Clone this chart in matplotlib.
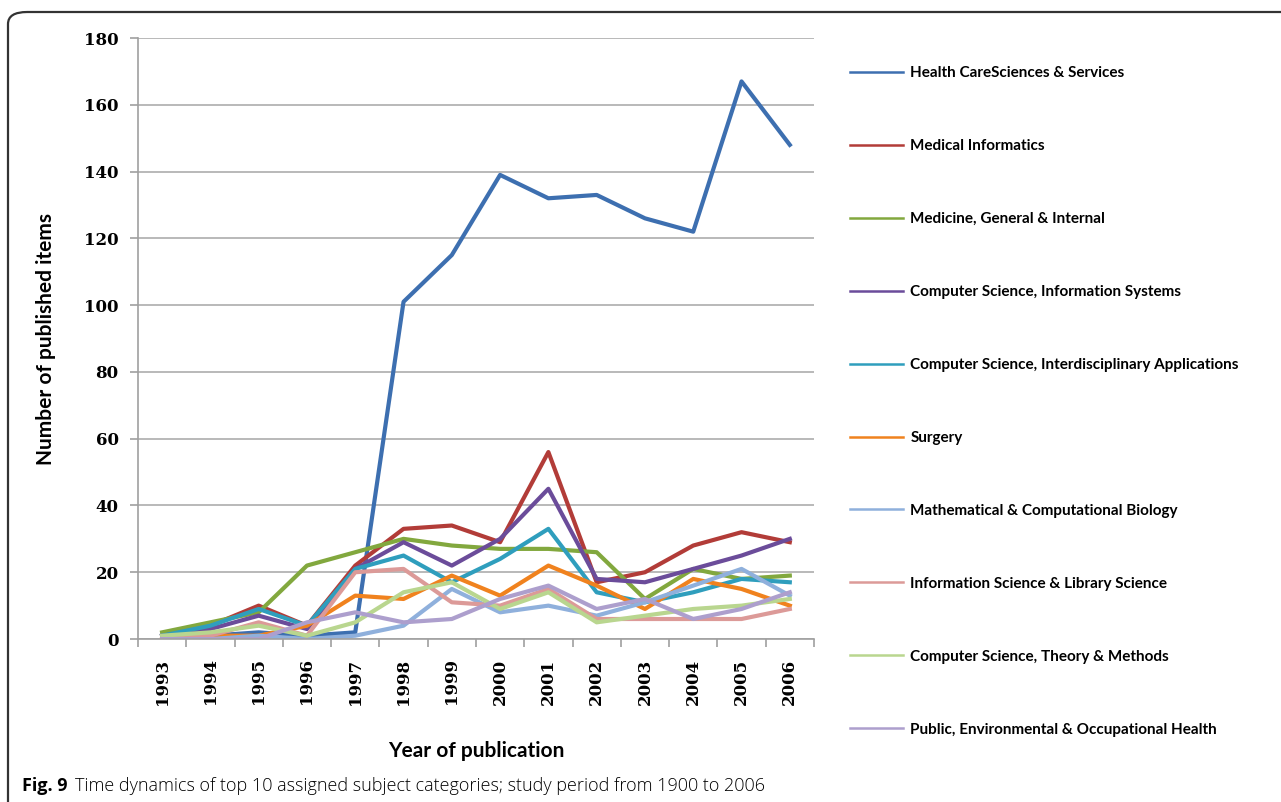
import matplotlib
matplotlib.use("Agg")
import matplotlib.pyplot as plt
from matplotlib.patches import FancyBboxPatch

# Year axis and counts per subject category
years = list(range(1993, 2007))

health_care = [1, 1, 2, 1, 2, 101, 115, 139, 132, 133, 126, 122, 167, 148]
medical_inf = [1, 4, 10, 4, 22, 33, 34, 29, 56, 17, 20, 28, 32, 29]
medicine_gen = [2, 5, 8, 22, 26, 30, 28, 27, 27, 26, 12, 21, 18, 19]
cs_info_sys = [1, 3, 7, 3, 21, 29, 22, 30, 45, 18, 17, 21, 25, 30]
cs_interdisc = [1, 4, 9, 4, 21, 25, 17, 24, 33, 14, 11, 14, 18, 17]
surgery = [0, 1, 1, 4, 13, 12, 19, 13, 22, 16, 9, 18, 15, 10]
math_bio = [0, 0, 1, 0, 1, 4, 15, 8, 10, 7, 11, 16, 21, 13]
info_lib = [0, 1, 5, 1, 20, 21, 11, 10, 15, 6, 6, 6, 6, 9]
cs_theory = [1, 2, 4, 1, 5, 14, 17, 9, 14, 5, 7, 9, 10, 12]
public_health = [0, 0, 0, 5, 8, 5, 6, 12, 16, 9, 12, 6, 9, 14]

labels = ["Health CareSciences & Services",
          "Medical Informatics",
          "Medicine, General & Internal",
          "Computer Science, Information Systems",
          "Computer Science, Interdisciplinary Applications",
          "Surgery",
          "Mathematical & Computational Biology",
          "Information Science & Library Science",
          "Computer Science, Theory & Methods",
          "Public, Environmental & Occupational Health"]

series = [health_care, medical_inf, medicine_gen, cs_info_sys, cs_interdisc,
          surgery, math_bio, info_lib, cs_theory, public_health]

colors = ["#3d6fb0", "#b23c38", "#82a83e", "#6b4c9a", "#2f9ebd",
          "#f0821e", "#8fb0dc", "#dc9a98", "#b9d68f", "#ad9fcd"]

sans = ["Lato", "DejaVu Sans"]
serif = ["DejaVu Serif"]

fig = plt.figure(figsize=(12.81, 8.02), dpi=100)
ax = fig.add_axes([0.1077, 0.2032, 0.5277, 0.7494])

# rounded frame around the whole figure, running off right and bottom
frame = FancyBboxPatch((8 / 1281, -0.2), 1.2, 1.2 - 12 / 802,
                       boxstyle="round,pad=0,rounding_size=0.015",
                       transform=fig.transFigure, facecolor="none",
                       edgecolor="#333333", linewidth=1.6, clip_on=False)
fig.patches.append(frame)

# first series drawn first, later ones on top (spreadsheet order)
for vals, lab, col in zip(series, labels, colors):
    ax.plot(years, vals, color=col, linewidth=3.0, label=lab)

ax.set_xlim(1992.5, 2006.5)
ax.set_ylim(0, 180)
ax.set_yticks(range(0, 181, 20))
ax.set_xticks(years)
ax.set_xticks([y + 0.5 for y in range(1992, 2007)], minor=True)
ax.set_xticklabels([str(y) for y in years], rotation=90)

for lbl in ax.get_xticklabels() + ax.get_yticklabels():
    lbl.set_family(serif)
    lbl.set_fontweight("bold")
    lbl.set_fontsize(12)

ax.tick_params(axis="x", which="major", length=0, pad=14)
ax.tick_params(axis="x", which="minor", length=6, color="#a0a0a0", width=1.2)
ax.tick_params(axis="y", length=6, color="#a0a0a0", width=1.2, pad=8)

ax.grid(axis="y", color="#b3b3b3", linewidth=1.3)
ax.set_axisbelow(True)
for side in ["top", "right"]:
    ax.spines[side].set_visible(False)
for side in ["left", "bottom"]:
    ax.spines[side].set_color("#a0a0a0")
    ax.spines[side].set_linewidth(1.2)

ax.set_xlabel("Year of publication", family=sans, fontweight="bold",
              fontsize=15, labelpad=26)
ax.set_ylabel("Number of published items", family=sans, fontweight="bold",
              fontsize=15, labelpad=20)

leg = ax.legend(loc="upper left",
                bbox_to_anchor=(850 / 1281, 1 - 66 / 802),
                bbox_transform=fig.transFigure, frameon=False,
                prop={"family": sans, "weight": "bold", "size": 11},
                handlelength=3.5, handletextpad=0.45, labelspacing=3.86,
                borderaxespad=0, borderpad=0)
for ln in leg.get_lines():
    ln.set_linewidth(1.8)

fig.text(22 / 1281, 1 - 786 / 802, "Fig. 9", family=["Open Sans", "DejaVu Sans"],
         fontweight="bold", fontsize=13, va="center")
fig.text(75 / 1281, 1 - 786 / 802,
         "Time dynamics of top 10 assigned subject categories; study period from 1900 to 2006",
         family=["Open Sans", "DejaVu Sans"], fontweight="light", fontsize=13,
         va="center")

fig.savefig("out.png", dpi=100)
